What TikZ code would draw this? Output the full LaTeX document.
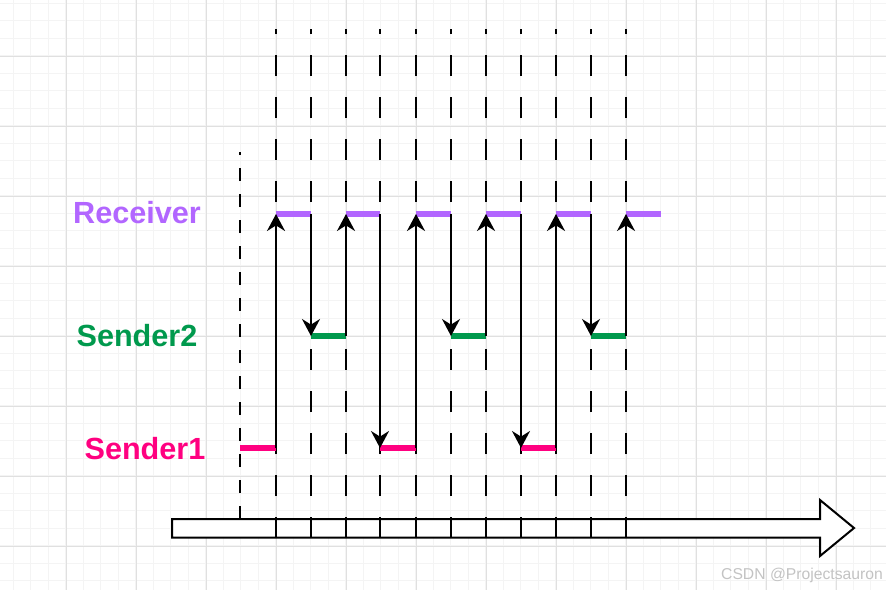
\documentclass[tikz,border=0pt]{standalone}
\usepackage{fontspec}
\setmainfont{Liberation Sans}
\usetikzlibrary{arrows.meta}

\definecolor{recvpurple}{RGB}{178,102,255}
\definecolor{sendgreen}{RGB}{0,153,77}
\definecolor{sendpink}{RGB}{255,0,128}
\definecolor{gridmajor}{RGB}{224,224,224}
\definecolor{gridminor}{RGB}{244,244,244}
\definecolor{markgray}{RGB}{195,195,195}

\begin{document}
\begin{tikzpicture}[
    x=0.5pt, y=-0.5pt,
    minorline/.style = {draw=gridminor, line width=0.5pt},
    majorline/.style = {draw=gridmajor, line width=0.6pt},
    tickline/.style = {line width=1.1pt, dash pattern=on 10.5pt off 10.5pt},
    startline/.style = {line width=1.1pt, dash pattern=on 6.5pt off 6.5pt},
    msg/.style = {line width=1pt, -{Stealth[length=8.5pt, width=9pt, inset=2.8pt]}},
    slot/.style = {line width=3.2pt},
    lbl/.style = {font=\fontsize{15.3pt}{18pt}\selectfont\bfseries, inner sep=0pt, anchor=base},
    >=Stealth
]

\useasboundingbox[fill=white] (0,0) rectangle (886,590);

% --- Background grid ---
\foreach \i in {0,...,49} \draw[minorline] ({13.3+17.5*\i},0) -- ({13.3+17.5*\i},590);
\foreach \j in {0,...,33} \draw[minorline] (0,{3.3+17.5*\j}) -- (886,{3.3+17.5*\j});
\foreach \i in {0,...,11} \draw[majorline] ({66.3+70*\i},0) -- ({66.3+70*\i},590);
\foreach \j in {0,...,7} \draw[majorline] (0,{56.3+70*\j}) -- (886,{56.3+70*\j});

% --- Time axis (block arrow) ---
\draw[line width=1pt, fill=white] (172,519) -- (820,519) -- (820,500) -- (854,528)
    -- (820,556) -- (820,537.5) -- (172,537.5) -- cycle;

% --- Time ticks and levels ---
\foreach \x [count=\i from 0] in {240,276,311,346,380,416,451,486,521,556,591,626,661} {
    \coordinate (top\i) at (\x,29);
    \coordinate (bot\i) at (\x,538);
    \coordinate (rcv\i) at (\x,214);
    \coordinate (s2-\i) at (\x,336);
    \coordinate (s1-\i) at (\x,448);
}
\coordinate (startbot) at (240,519);
\coordinate (starttop) at (240,152);

% --- Dashed tick lines ---
\draw[startline] (startbot) -- (starttop);
\foreach \i in {1,...,11} \draw[tickline] (bot\i) -- (top\i);

% --- Level labels ---
\node[lbl, text=recvpurple] (recvlbl) at (137,223) {Receiver};
\node[lbl, text=sendgreen] (send2lbl) at (137,346) {Sender2};
\node[lbl, text=sendpink] (send1lbl) at (145,459) {Sender1};

% --- Time slots on each level ---
\foreach \i/\j in {0/1,4/5,8/9} \draw[slot, sendpink] (s1-\i) -- (s1-\j);
\foreach \i/\j in {2/3,6/7,10/11} \draw[slot, sendgreen] (s2-\i) -- (s2-\j);
\foreach \i/\j in {1/2,3/4,5/6,7/8,9/10,11/12} \draw[slot, recvpurple] (rcv\i) -- (rcv\j);

% --- Messages: sender up to receiver, receiver down to sender ---
\foreach \i/\s in {1/s1,3/s2,5/s1,7/s2,9/s1,11/s2} \draw[msg] (\s-\i) -- (rcv\i);
\foreach \i/\s in {2/s2,4/s1,6/s2,8/s1,10/s2} \draw[msg] (rcv\i) -- (\s-\i);

% --- Watermark ---
\node[font=\fontsize{7.85pt}{9pt}\selectfont, text=markgray, anchor=base, inner sep=0pt] (mark)
    at (802,579.5) {CSDN @Projectsauron};

\end{tikzpicture}
\end{document}
